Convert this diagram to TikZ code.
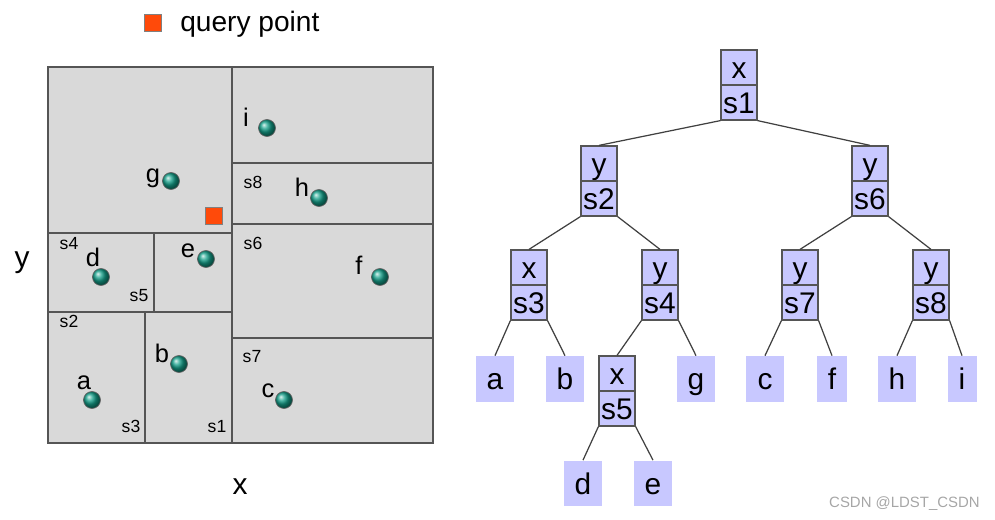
\documentclass[tikz,border=0pt]{standalone}
\usepackage{fontspec}
\setmainfont{Liberation Sans}
\usepackage{tikz}
\definecolor{cellgray}{HTML}{D9D9D9}
\definecolor{linegray}{HTML}{555555}
\definecolor{lav}{HTML}{C8C8FF}
\definecolor{ptteal}{HTML}{14A08A}
\definecolor{qorange}{HTML}{FF4A0A}
\tikzset{
  cell/.style={draw=linegray, line width=0.9pt},
  pt/.style={circle, draw=black!60, ball color=ptteal, minimum size=0.34cm, inner sep=0pt},
  qsq/.style={draw=black!50, fill=qorange, minimum size=0.34cm, inner sep=0pt},
  lbl/.style={anchor=base, inner sep=0pt, font=\fontsize{14.5}{14.5}\selectfont},
  slbl/.style={anchor=base, inner sep=0pt, font=\fontsize{10}{10}\selectfont},
  axlbl/.style={anchor=base, inner sep=0pt, font=\fontsize{17}{17}\selectfont},
  kd/.style={draw=linegray, fill=lav, line width=0.7pt, minimum width=0.72cm, minimum height=0.70cm,
    inner sep=0pt, text height=12.5pt, text depth=0pt, font=\fontsize{17}{17}\selectfont},
  leaf/.style={fill=lav, minimum width=0.76cm, minimum height=0.92cm, inner sep=0pt,
    text height=12.5pt, text depth=0pt, font=\fontsize{17}{17}\selectfont},
  edge/.style={draw=black!75, line width=0.7pt}
}
\begin{document}
\begin{tikzpicture}[x=0.02cm, y=-0.02cm]
  \useasboundingbox (0,0) rectangle (995,520);
  % 图例
  \node[qsq] (legsq) at (153,23) {};
  \node[anchor=base west, inner sep=0pt, font=\fontsize{16}{16}\selectfont] (legtxt) at (180,32) {query point};
  % 划分区域
  \fill[cellgray] (48,67) rectangle (433,443);
  \draw[cell] (48,67) rectangle (433,443);
  \draw[cell] (232,67) -- (232,443);
  \draw[cell] (48,233) -- (232,233);
  \draw[cell] (154,233) -- (154,312);
  \draw[cell] (48,312) -- (232,312);
  \draw[cell] (145,312) -- (145,443);
  \draw[cell] (232,163) -- (433,163);
  \draw[cell] (232,224) -- (433,224);
  \draw[cell] (232,338) -- (433,338);
  % 区域标号
  \node[slbl] (ls1) at (217,433) {s1};
  \node[slbl] (ls2) at (69,328) {s2};
  \node[slbl] (ls3) at (131,433) {s3};
  \node[slbl] (ls4) at (69,250) {s4};
  \node[slbl] (ls5) at (139,302) {s5};
  \node[slbl] (ls6) at (253,250) {s6};
  \node[slbl] (ls7) at (252,363) {s7};
  \node[slbl] (ls8) at (253,189) {s8};
  % 数据点
  \node[pt] (pa) at (92,400) {};
  \node[pt] (pb) at (179,364) {};
  \node[pt] (pc) at (284,400) {};
  \node[pt] (pd) at (101,277) {};
  \node[pt] (pe) at (206,259) {};
  \node[pt] (pf) at (380,277) {};
  \node[pt] (pg) at (171,181) {};
  \node[pt] (ph) at (319,198) {};
  \node[pt] (pi) at (267,128) {};
  \node[qsq] (qp) at (214,216) {};
  % 数据点标号
  \node[lbl] (la) at (84,390) {a};
  \node[lbl] (lb) at (162,363) {b};
  \node[lbl] (lc) at (268,398) {c};
  \node[lbl] (ld) at (93,267) {d};
  \node[lbl] (le) at (188,258) {e};
  \node[lbl] (lf) at (359,275) {f};
  \node[lbl] (lg) at (153,183) {g};
  \node[lbl] (lh) at (302,197) {h};
  \node[lbl] (li) at (246,127) {i};
  % 坐标轴
  \node[axlbl] (xax) at (240,495) {x};
  \node[axlbl] (yax) at (22,268) {y};
  % kd 树内部结点
  \node[kd] (n1t) at (739,67.5) {x};
  \node[kd] (n1) at (739,102.5) {s1};
  \node[kd] (n2t) at (599,163.5) {y};
  \node[kd] (n2) at (599,198.5) {s2};
  \node[kd] (n6t) at (870,163.5) {y};
  \node[kd] (n6) at (870,198.5) {s6};
  \node[kd] (n3t) at (529,267.5) {x};
  \node[kd] (n3) at (529,302.5) {s3};
  \node[kd] (n4t) at (660,267.5) {y};
  \node[kd] (n4) at (660,302.5) {s4};
  \node[kd] (n7t) at (800,267.5) {y};
  \node[kd] (n7) at (800,302.5) {s7};
  \node[kd] (n8t) at (931,267.5) {y};
  \node[kd] (n8) at (931,302.5) {s8};
  \node[kd] (n5t) at (617,373.5) {x};
  \node[kd] (n5) at (617,408.5) {s5};
  % 叶子
  \node[leaf] (ta) at (495,379) {a};
  \node[leaf] (tb) at (565,379) {b};
  \node[leaf] (tg) at (696,379) {g};
  \node[leaf] (tc) at (765,379) {c};
  \node[leaf, minimum width=0.6cm] (tf) at (832,379) {f};
  \node[leaf] (th) at (897,379) {h};
  \node[leaf, minimum width=0.58cm] (ti) at (962,379) {i};
  \node[leaf] (td) at (583,483.5) {d};
  \node[leaf] (te) at (653,483.5) {e};
  % 树边
  \draw[edge] (n1.south west) -- (n2t.north);
  \draw[edge] (n1.south east) -- (n6t.north);
  \draw[edge] (n2.south west) -- (n3t.north);
  \draw[edge] (n2.south east) -- (n4t.north);
  \draw[edge] (n6.south west) -- (n7t.north);
  \draw[edge] (n6.south east) -- (n8t.north);
  \draw[edge] (n3.south west) -- (ta.north);
  \draw[edge] (n3.south east) -- (tb.north);
  \draw[edge] (n4.south west) -- (n5t.north);
  \draw[edge] (n4.south east) -- (tg.north);
  \draw[edge] (n7.south west) -- (tc.north);
  \draw[edge] (n7.south east) -- (tf.north);
  \draw[edge] (n8.south west) -- (th.north);
  \draw[edge] (n8.south east) -- (ti.north);
  \draw[edge] (n5.south west) -- (td.north);
  \draw[edge] (n5.south east) -- (te.north);
  % 水印
  \node[anchor=base east, inner sep=0pt, text=black!35, font=\fontsize{8.5}{8.5}\selectfont] (wm) at (980,507) {CSDN @LDST\_CSDN};
\end{tikzpicture}
\end{document}
